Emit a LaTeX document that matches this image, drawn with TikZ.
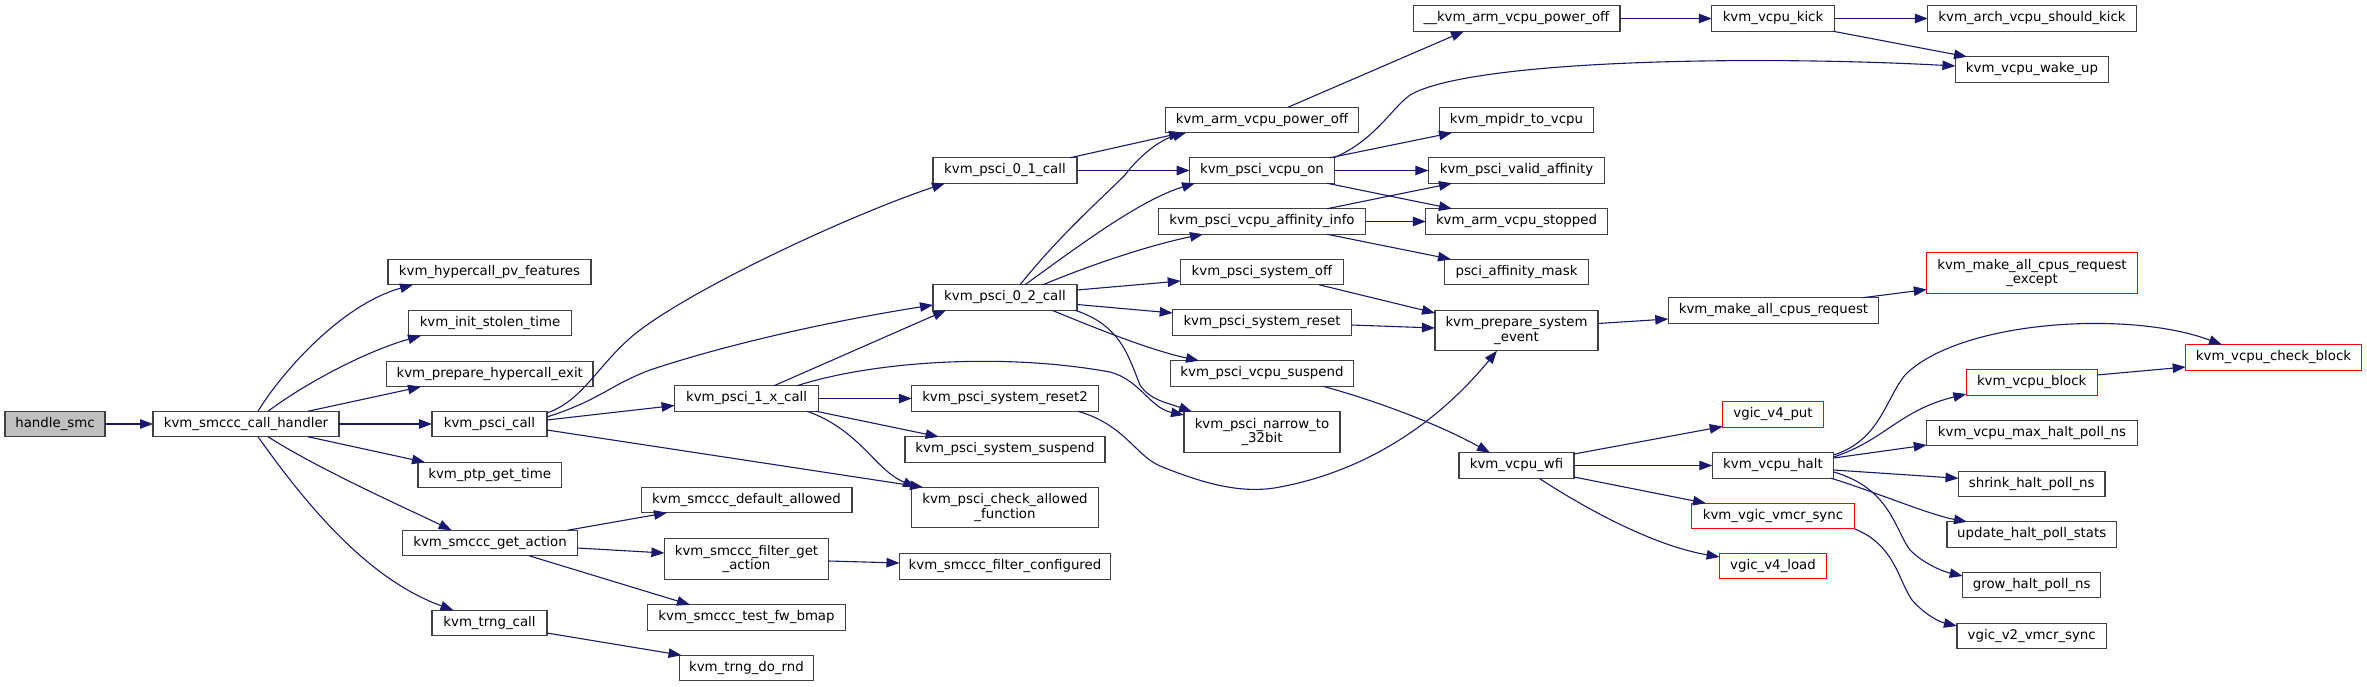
\documentclass[tikz,border=0pt]{standalone}
\usepackage{fontspec}
\setmainfont{DejaVu Sans}
\usetikzlibrary{arrows.meta,calc}
\definecolor{edgecol}{HTML}{191970}
\definecolor{nodeborder}{HTML}{404040}
\definecolor{rootfill}{HTML}{BFBFBF}
\definecolor{redborder}{HTML}{FF0000}
\newcommand{\gfont}{\fontsize{13.33}{14.6}\selectfont}
\tikzset{
  box/.style={draw=nodeborder, line width=1.2pt, fill=white, rectangle, inner sep=0pt, outer sep=0pt,
    minimum height=25.5pt, font=\gfont, text=black, align=center},
  tall/.style={minimum height=40.5pt},
  redbox/.style={box, draw=redborder},
  rootbox/.style={box, fill=rootfill},
  e/.style={draw=edgecol, line width=1.1pt, -{Triangle[length=13pt,width=9.5pt]}},
}
\begin{document}
\begin{tikzpicture}[x=1pt,y=-1pt]
\fill[white] (0,0) rectangle (2367,687);
\useasboundingbox (0,0) rectangle (2367,687);
% column 0-1
\node[rootbox, minimum width=100pt] (hsmc) at (55,424) {handle\_smc};
\node[box, minimum width=186pt] (handler) at (246,424) {kvm\_smccc\_call\_handler};
% column 2
\node[box, minimum width=203pt] (pvfeat) at (489.5,272) {kvm\_hypercall\_pv\_features};
\node[box, minimum width=162.5pt] (stolen) at (490,323) {kvm\_init\_stolen\_time};
\node[box, minimum width=206.5pt] (prephyp) at (489.75,374) {kvm\_prepare\_hypercall\_exit};
\node[box, minimum width=115pt] (pscicall) at (489.5,424) {kvm\_psci\_call};
\node[box, minimum width=143.5pt] (ptp) at (489.75,475) {kvm\_ptp\_get\_time};
\node[box, minimum width=174.4pt] (getaction) at (490,543) {kvm\_smccc\_get\_action};
\node[box, minimum width=115pt] (trngcall) at (489.5,623) {kvm\_trng\_call};
% column 3
\node[box, minimum width=144pt] (psci1x) at (746.6,398.5) {kvm\_psci\_1\_x\_call};
\node[box, minimum width=210.8pt] (defallowed) at (746.5,500) {kvm\_smccc\_default\_allowed};
\node[box, tall, minimum width=164.2pt] (filtergetaction) at (746.5,559) {kvm\_smccc\_filter\_get\\\_action};
\node[box, minimum width=197.4pt] (testfw) at (746.5,617.5) {kvm\_smccc\_test\_fw\_bmap};
\node[box, minimum width=134.7pt] (trngrnd) at (746.5,668) {kvm\_trng\_do\_rnd};
% column 4
\node[box, minimum width=144pt] (psci01) at (1005,170.5) {kvm\_psci\_0\_1\_call};
\node[box, minimum width=144pt] (psci02) at (1005,297.5) {kvm\_psci\_0\_2\_call};
\node[box, minimum width=186.5pt] (reset2) at (1005,398.5) {kvm\_psci\_system\_reset2};
\node[box, minimum width=200pt] (syssuspend) at (1005,449.5) {kvm\_psci\_system\_suspend};
\node[box, tall, minimum width=186.5pt] (checkallowed) at (1005,507.5) {kvm\_psci\_check\_allowed\\\_function};
\node[box, minimum width=211pt] (filterconf) at (1005,566.5) {kvm\_smccc\_filter\_configured};
% column 5
\node[box, minimum width=193.6pt] (armpoweroff) at (1262,120) {kvm\_arm\_vcpu\_power\_off};
\node[box, minimum width=144.7pt] (vcpuon) at (1262,170.5) {kvm\_psci\_vcpu\_on};
\node[box, minimum width=207pt] (affinfo) at (1262,221.5) {kvm\_psci\_vcpu\_affinity\_info};
\node[box, minimum width=162.5pt] (sysoff) at (1262,272) {kvm\_psci\_system\_off};
\node[box, minimum width=178.7pt] (sysreset) at (1262,322.5) {kvm\_psci\_system\_reset};
\node[box, minimum width=182.4pt] (vcpususp) at (1262,373.5) {kvm\_psci\_vcpu\_suspend};
\node[box, tall, minimum width=156pt] (narrow) at (1262,432) {kvm\_psci\_narrow\_to\\\_32bit};
% column 6
\node[box, minimum width=206.8pt] (kpoweroff) at (1516.5,18.5) {\_\_kvm\_arm\_vcpu\_power\_off};
\node[box, minimum width=154.6pt] (mpidr) at (1516.5,120) {kvm\_mpidr\_to\_vcpu};
\node[box, minimum width=176.3pt] (validaff) at (1516.5,170.5) {kvm\_psci\_valid\_affinity};
\node[box, minimum width=181.3pt] (stopped) at (1516.5,221.5) {kvm\_arm\_vcpu\_stopped};
\node[box, minimum width=144pt] (affmask) at (1516.5,272) {psci\_affinity\_mask};
\node[box, tall, minimum width=163pt] (prepsys) at (1516.5,330.5) {kvm\_prepare\_system\\\_event};
\node[box, minimum width=115pt] (wfi) at (1516.5,465.5) {kvm\_vcpu\_wfi};
% column 7
\node[box, minimum width=122.5pt] (kick) at (1773,18.5) {kvm\_vcpu\_kick};
\node[box, minimum width=210.5pt] (makeall) at (1773.5,310.5) {kvm\_make\_all\_cpus\_request};
\node[redbox, minimum width=100.6pt] (v4put) at (1773,414.5) {vgic\_v4\_put};
\node[box, minimum width=121.4pt] (halt) at (1773,465.5) {kvm\_vcpu\_halt};
\node[redbox, minimum width=162.6pt] (vmcrsync) at (1773,516) {kvm\_vgic\_vmcr\_sync};
\node[redbox, minimum width=106.8pt] (v4load) at (1773,566) {vgic\_v4\_load};
% column 8
\node[box, minimum width=208.4pt] (shouldkick) at (2032,18.5) {kvm\_arch\_vcpu\_should\_kick};
\node[box, minimum width=153.2pt] (wakeup) at (2032,69.5) {kvm\_vcpu\_wake\_up};
\node[redbox, tall, minimum width=210.5pt] (except) at (2032,273) {kvm\_make\_all\_cpus\_request\\\_except};
\node[redbox, minimum width=130.8pt] (block) at (2031.7,382.5) {kvm\_vcpu\_block};
\node[box, minimum width=210.5pt] (maxhalt) at (2032,433) {kvm\_vcpu\_max\_halt\_poll\_ns};
\node[box, minimum width=146.4pt] (shrink) at (2031.7,484) {shrink\_halt\_poll\_ns};
\node[box, minimum width=169.4pt] (update) at (2031.7,534.5) {update\_halt\_poll\_stats};
\node[box, minimum width=138.1pt] (grow) at (2031.7,585) {grow\_halt\_poll\_ns};
\node[box, minimum width=149.5pt] (v2vmcr) at (2031.7,636) {vgic\_v2\_vmcr\_sync};
% column 9
\node[redbox, minimum width=175.6pt] (checkblock) at (2273.5,357.5) {kvm\_vcpu\_check\_block};

% ---- edges ----
\draw[e] (hsmc.east) -- (handler.west);
\draw[e] ($(handler)+(12,-12.75)$) .. controls (280,375) and (340,305) .. ($(pvfeat)+(-76.5,12.75)$);
\draw[e] ($(handler)+(22,-12.75)$) .. controls (310,380) and (370,350) .. ($(stolen)+(-69,12.75)$);
\draw[e] ($(handler)+(62,-12.75)$) -- ($(prephyp)+(-68.75,12.75)$);
\draw[e] (handler.east) -- (pscicall.west);
\draw[e] ($(handler)+(62,12.75)$) -- ($(ptp)+(-64.75,-12.75)$);
\draw[e] ($(handler)+(22,12.75)$) .. controls (320,470) and (410,510) .. ($(getaction)+(-38.4,-12.75)$);
\draw[e] ($(handler)+(12,12.75)$) .. controls (310,510) and (370,580) .. ($(trngcall)+(-36,-12.75)$);

\draw[e] ($(pscicall)+(57.4,-11)$) .. controls (585,400) and (600,360) .. (640,330)
   .. controls (700,285) and (850,215) .. ($(psci01)+(-60,12.75)$);
\draw[e] ($(pscicall)+(57.4,-7)$) .. controls (600,400) and (610,385) .. (650,370)
   .. controls (740,340) and (850,318) .. ($(psci02)+(-72,7.5)$);
\draw[e] ($(pscicall)+(57.4,-4)$) -- ($(psci1x)+(-72,7)$);
\draw[e] ($(pscicall)+(57.4,6)$) -- ($(checkallowed)+(-82,-20.25)$);

\draw[e] ($(psci1x)+(27.4,-12.75)$) -- ($(psci02)+(-59,12.75)$);
\draw[e] ($(psci1x)+(50.4,-12.75)$) .. controls (870,362) and (1000,352) .. (1110,372)
   .. controls (1140,380) and (1150,408) .. ($(narrow)+(-78,-17)$);
\draw[e] (psci1x.east) -- (reset2.west);
\draw[e] ($(psci1x)+(69.4,12.75)$) -- ($(syssuspend)+(-66.3,-12.75)$);
\draw[e] ($(psci1x)+(60.4,12.75)$) .. controls (860,430) and (875,470) .. ($(checkallowed)+(-89,-20.25)$);

\draw[e] ($(psci01)+(65,-12.75)$) -- ($(armpoweroff)+(-80,12.75)$);
\draw[e] (psci01.east) -- (vcpuon.west);
\draw[e] ($(psci02)+(15,-12.75)$) .. controls (1060,235) and (1100,200) .. (1125,175)
   .. controls (1140,155) and (1160,140) .. ($(armpoweroff)+(-76,12.75)$);
\draw[e] ($(psci02)+(20,-12.75)$) .. controls (1080,245) and (1140,200) .. ($(vcpuon)+(-67,12.75)$);
\draw[e] ($(psci02)+(38,-12.75)$) .. controls (1090,265) and (1150,245) .. ($(affinfo)+(-59,12.75)$);
\draw[e] ($(psci02)+(72,-7.5)$) -- ($(sysoff)+(-81.25,9)$);
\draw[e] ($(psci02)+(72,7)$) -- ($(sysreset)+(-89.35,-9.5)$);
\draw[e] ($(psci02)+(47,12.75)$) .. controls (1100,330) and (1150,350) .. ($(vcpususp)+(-63,-12.75)$);
\draw[e] ($(psci02)+(70,12.75)$) .. controls (1120,325) and (1128,355) .. (1140,385)
   .. controls (1150,400) and (1165,402) .. ($(narrow)+(-70,-20.25)$);

\draw[e] ($(reset2)+(73,12.75)$) .. controls (1125,425) and (1135,455) .. (1160,466)
   .. controls (1200,482) and (1240,495) .. (1280,487)
   .. controls (1370,470) and (1440,420) .. ($(prepsys)+(-19.5,20.25)$);

\draw[e] ($(vcpuon)+(72,-12.75)$) .. controls (1375,140) and (1390,110) .. (1410,95)
   .. controls (1470,60) and (1750,55) .. ($(wakeup)+(-76.6,-3.5)$);
\draw[e] ($(vcpuon)+(68,-12.75)$) -- ($(mpidr)+(-64.5,12.75)$);
\draw[e] (vcpuon.east) -- (validaff.west);
\draw[e] ($(vcpuon)+(65,12.75)$) -- ($(stopped)+(-64.5,-12.75)$);
\draw[e] ($(affinfo)+(65,-12.75)$) -- ($(validaff)+(-64.5,12.75)$);
\draw[e] (affinfo.east) -- (stopped.west);
\draw[e] ($(affinfo)+(65,12.75)$) -- ($(affmask)+(-65.5,-12.75)$);
\draw[e] ($(armpoweroff)+(26,-12.75)$) -- ($(kpoweroff)+(-52.5,12.75)$);
\draw[e] ($(sysoff)+(57,12.75)$) -- ($(prepsys)+(-81.5,-17.5)$);
\draw[e] ($(sysreset)+(89.35,2.5)$) -- ($(prepsys)+(-81.5,-2.5)$);
\draw[e] ($(vcpususp)+(61,12.75)$) .. controls (1380,402) and (1440,425) .. ($(wfi)+(-26.5,-12.75)$);

\draw[e] (kpoweroff.east) -- (kick.west);
\draw[e] (kick.east) -- (shouldkick.west);
\draw[e] ($(kick)+(60,12.75)$) -- ($(wakeup)+(-65,-12.75)$);
\draw[e] ($(prepsys)+(81.5,-7)$) -- ($(makeall)+(-105.25,8.5)$);
\draw[e] ($(makeall)+(89,-12.75)$) -- ($(except)+(-105.25,16.5)$);

\draw[e] ($(wfi)+(57.5,-11.5)$) -- ($(v4put)+(-50.3,12)$);
\draw[e] (wfi.east) -- (halt.west);
\draw[e] ($(wfi)+(57.5,11.5)$) -- ($(vmcrsync)+(-67,-12.75)$);
\draw[e] ($(wfi)+(22.5,12.75)$) .. controls (1580,505) and (1650,545) .. ($(v4load)+(-53.4,-9)$);

\draw[e] ($(halt)+(60.7,-10.5)$) .. controls (1880,440) and (1885,400) .. (1905,375)
   .. controls (1960,320) and (2130,310) .. ($(checkblock)+(-51.5,-12.75)$);
\draw[e] ($(halt)+(60.7,-8.5)$) .. controls (1885,440) and (1900,410) .. ($(block)+(-65.4,11.5)$);
\draw[e] ($(block)+(65.4,-7.5)$) -- ($(checkblock)+(-87.8,9.5)$);
\draw[e] ($(halt)+(60.7,-7.5)$) -- ($(maxhalt)+(-105.25,12)$);
\draw[e] ($(halt)+(60.7,4.5)$) -- ($(shrink)+(-73.2,-5.7)$);
\draw[e] ($(halt)+(58,12.75)$) .. controls (1870,490) and (1930,515) .. ($(update)+(-64.7,-12.75)$);
\draw[e] ($(halt)+(60.7,6.5)$) .. controls (1890,488) and (1895,530) .. (1910,550)
   .. controls (1925,565) and (1945,572) .. ($(grow)+(-69,-9)$);
\draw[e] ($(vmcrsync)+(81.3,12.75)$) .. controls (1895,545) and (1898,580) .. (1912,600)
   .. controls (1925,615) and (1940,622) .. ($(v2vmcr)+(-74.75,-10)$);

\draw[e] ($(getaction)+(77.5,-12.75)$) -- ($(defallowed)+(-79.5,12.75)$);
\draw[e] ($(getaction)+(87.2,5)$) -- ($(filtergetaction)+(-82.1,-6)$);
\draw[e] ($(getaction)+(39,12.75)$) -- ($(testfw)+(-56.5,-12.75)$);
\draw[e] ($(filtergetaction)+(82.1,2)$) -- ($(filterconf)+(-105.5,-3.5)$);
\draw[e] ($(trngcall)+(57.4,10)$) -- ($(trngrnd)+(-65,-12.75)$);
\end{tikzpicture}
\end{document}
